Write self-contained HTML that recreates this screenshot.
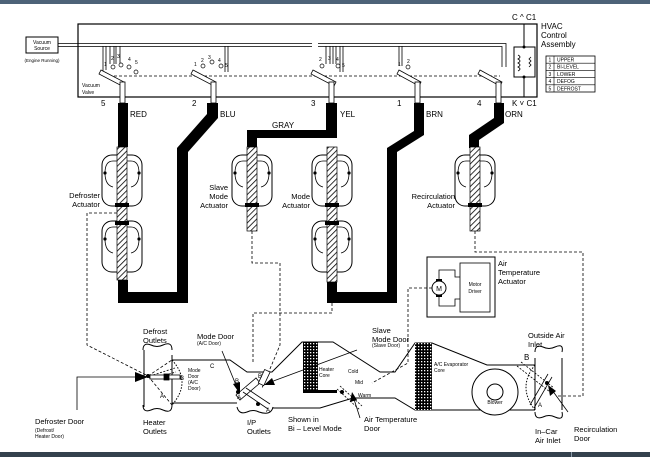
<!DOCTYPE html>
<html><head><style>
body{margin:0;background:#fff}
svg{display:block}
text{font-family:"Liberation Sans",sans-serif;fill:#000}
</style></head><body>
<svg width="650" height="457" viewBox="0 0 650 457" xmlns="http://www.w3.org/2000/svg">
<defs>
<pattern id="h" width="4" height="4" patternUnits="userSpaceOnUse" patternTransform="rotate(45)"><rect width="4" height="4" fill="#fff"/><line x1="0" y1="0" x2="0" y2="4" stroke="#000" stroke-width="1.6"/></pattern>
<pattern id="g" width="3" height="3" patternUnits="userSpaceOnUse"><rect width="3" height="3" fill="#000"/><rect x="1" y="1" width="1.3" height="1.3" fill="#fff"/></pattern>
<g id="lobe">
<rect x="-20" y="0" width="40" height="51" rx="10" fill="#fff" stroke="#000" stroke-width="1"/>
<path d="M-17 18 q0 -12 8 -12 h4 M17 18 q0 -12 -8 -12 h-4 M-17 18 q0 12 8 14 M17 18 q0 12 -8 14" fill="none" stroke="#000" stroke-width="0.8"/>
<circle cx="-17" cy="18" r="1.6"/><circle cx="17" cy="18" r="1.6"/>
</g>
</defs>
<rect x="0" y="0" width="650" height="4" fill="#4d6378"/>
<rect x="0" y="452" width="650" height="5" fill="#34414d"/>
<rect x="571" y="452" width="1" height="5" fill="#8a99a8"/>

<rect x="78" y="24" width="459" height="73" fill="none" stroke="#000" stroke-width="1.2"/>
<rect x="26" y="37" width="32" height="16" fill="#fff" stroke="#000"/>
<text x="42" y="44" font-size="5" text-anchor="middle">Vacuum</text>
<text x="42" y="50" font-size="5" text-anchor="middle">Source</text>
<text x="42" y="62" font-size="4.5" text-anchor="middle">(Engine Running)</text>
<path d="M58 43.5 H312 M318 43.5 H506 V67 M58 46.5 H312 M318 46.5 H502 V67" fill="none" stroke="#000" stroke-width="0.8"/>
<line x1="104" y1="76" x2="500" y2="76" stroke="#000" stroke-width="0.7" stroke-dasharray="3,2"/>
<text x="82" y="87" font-size="5">Vacuum</text><text x="82" y="94" font-size="5">Valve</text>
<g fill="none" stroke="#000" stroke-width="0.8">
<path d="M103 46 V72 M106 46 V70 M110 46 V64 M114 46 V64 M116 46 V64 M120 46 V64"/>
<path d="M225 46 V72 M228 46 V72"/>
<path d="M326 46 V64 M330 46 V64 M333 46 V64 M336 46 V64 M340 46 V72 M343 46 V72"/>
<path d="M399 46 V66 M402 46 V66"/>
</g>
<g font-size="5">
<text x="104" y="66">1</text><text x="111" y="60">2</text><text x="117" y="58">3</text><text x="128" y="61">4</text><text x="135" y="64">5</text>
<text x="194" y="66">1</text><text x="201" y="62">2</text><text x="208" y="59">3</text><text x="218" y="62">4</text><text x="225" y="67">5</text>
<text x="319" y="61">2</text><text x="328" y="60">3</text><text x="336" y="61">4</text><text x="342" y="67">5</text>
<text x="398" y="66">1</text><text x="407" y="63">2</text>
</g>
<g fill="#fff" stroke="#000" stroke-width="0.7">
<circle cx="113" cy="67" r="2"/><circle cx="121" cy="65" r="2"/><circle cx="129" cy="67" r="2"/><circle cx="136" cy="72" r="2"/>
<circle cx="203" cy="66" r="2"/><circle cx="212" cy="62" r="2"/><circle cx="221" cy="66" r="2"/>
<circle cx="322" cy="66" r="2"/><circle cx="338" cy="66" r="2"/><circle cx="408" cy="67" r="2"/>
</g>
<g fill="#fff" stroke="#000" stroke-width="0.8">
<path d="M101 70 L124 82 L122 86 L99 74 Z"/><rect x="120" y="82" width="5" height="21"/>
<path d="M193 70 L216 82 L214 86 L191 74 Z"/><rect x="211" y="82" width="5" height="21"/>
<path d="M313 70 L336 82 L334 86 L311 74 Z"/><rect x="329" y="82" width="5" height="21"/>
<path d="M399 70 L421 82 L419 86 L397 74 Z"/><rect x="415" y="82" width="5" height="21"/>
<path d="M480 70 L502 82 L500 86 L478 74 Z"/><rect x="496" y="82" width="5" height="21"/>
</g>
<line x1="524" y1="24" x2="524" y2="97" stroke="#000"/>
<rect x="514" y="47" width="21" height="30" fill="#fff" stroke="#000"/>
<path d="M518 55 q4 2 0 4 q4 2 0 4 q4 2 0 4 q4 2 0 4 M531 57 l-2 2 l2 2 l-2 2 l2 2 l-2 2" fill="none" stroke="#000" stroke-width="0.8"/>
<circle cx="524" cy="47" r="1.5"/><circle cx="524" cy="77" r="1.5"/>
<text x="512" y="20" font-size="8">C ^ C1</text>
<text x="512" y="106" font-size="8">K ˅ C1</text>
<text x="541" y="29" font-size="8">HVAC</text><text x="541" y="38" font-size="8">Control</text><text x="541" y="47" font-size="8">Assembly</text>
<g font-size="5" stroke="none">
<rect x="546" y="56" width="49" height="36" fill="#fff" stroke="#000" stroke-width="0.8"/>
<path d="M546 63.2H595M546 70.4H595M546 77.6H595M546 84.8H595M554 56V92" stroke="#000" stroke-width="0.6"/>
<text x="548.5" y="61.5">1</text><text x="557" y="61.5">UPPER</text>
<text x="548.5" y="68.7">2</text><text x="557" y="68.7">BI-LEVEL</text>
<text x="548.5" y="75.9">3</text><text x="557" y="75.9">LOWER</text>
<text x="548.5" y="83.1">4</text><text x="557" y="83.1">DEFOG</text>
<text x="548.5" y="90.3">5</text><text x="557" y="90.3">DEFROST</text>
</g>
<g font-size="8">
<text x="101" y="106">5</text><text x="192" y="106">2</text><text x="311" y="106">3</text><text x="397" y="106">1</text><text x="477" y="106">4</text>
<text x="130" y="117">RED</text><text x="220" y="117">BLU</text><text x="340" y="117">YEL</text><text x="426" y="117">BRN</text><text x="505" y="117">ORN</text>
<text x="272" y="128">GRAY</text>
</g>
<g fill="#000">
<rect x="118" y="103" width="10" height="44"/>
<path d="M207 103 H218 V118 L188 152 V303 H118 V280 H128 V292 H177 V148 L207 114 Z"/>
<path d="M326 103 H337 V138 H257 V147 H247 V130 H326 Z"/>
<path d="M414 103 H424 V135 L397 152 V303 H327 V282 H337 V292 H387 V148 L414 131 Z"/>
<path d="M494 103 H504 V123 L479 140 V148 H469 V135 L494 118 Z"/>
</g>
<g>
<use href="#lobe" x="122" y="155"/><use href="#lobe" x="122" y="221"/>
<rect x="117" y="147" width="10" height="133" fill="url(#h)" stroke="#000" stroke-width="0.7"/>
<rect x="115" y="203" width="14" height="4"/><rect x="115" y="221" width="14" height="4"/>
<use href="#lobe" x="252" y="155"/>
<rect x="247" y="147" width="10" height="84" fill="url(#h)" stroke="#000" stroke-width="0.7"/>
<rect x="245" y="203" width="14" height="4"/>
<use href="#lobe" x="332" y="155"/><use href="#lobe" x="332" y="221"/>
<rect x="327" y="147" width="10" height="135" fill="url(#h)" stroke="#000" stroke-width="0.7"/>
<rect x="325" y="203" width="14" height="4"/><rect x="325" y="221" width="14" height="4"/>
<use href="#lobe" x="475" y="155"/>
<rect x="470" y="147" width="10" height="84" fill="url(#h)" stroke="#000" stroke-width="0.7"/>
<rect x="468" y="203" width="14" height="4"/>
</g>
<g font-size="7.5" text-anchor="end">
<text x="100" y="198">Defroster</text><text x="100" y="207">Actuator</text>
<text x="228" y="190">Slave</text><text x="228" y="199">Mode</text><text x="228" y="208">Actuator</text>
<text x="310" y="199">Mode</text><text x="310" y="208">Actuator</text>
<text x="455" y="199">Recirculation</text><text x="455" y="208">Actuator</text>
</g>
<rect x="427" y="257" width="68" height="60" fill="#fff" stroke="#000"/>
<rect x="460" y="263" width="30" height="49" fill="#fff" stroke="#000" stroke-width="0.8"/>
<path d="M439 280 V270 H455 V277 H460 M439 296 V306 H455 V299 H460" fill="none" stroke="#000" stroke-width="0.8"/>
<rect x="436" y="279" width="6" height="18"/>
<circle cx="439" cy="288" r="7" fill="#fff" stroke="#000"/>
<text x="439" y="291" font-size="7" text-anchor="middle">M</text>
<text x="475" y="286" font-size="5" text-anchor="middle">Motor</text><text x="475" y="293" font-size="5" text-anchor="middle">Driver</text>
<text x="498" y="266" font-size="7.5">Air</text><text x="498" y="275" font-size="7.5">Temperature</text><text x="498" y="284" font-size="7.5">Actuator</text>
<g fill="none" stroke="#000" stroke-width="0.8" stroke-dasharray="3,2">
<path d="M117 213 H87 V345 L148 376"/>
<path d="M252 231 V263 H280 V345 L262 388"/>
<path d="M332 303 V313 H253 V364"/>
<path d="M475 231 V252 H583 V396 H556"/>
<path d="M432 288 H408 V363 L372 383"/>
<path d="M148 376 L172 360 M148 376 L172 405"/>
</g>
<g fill="none" stroke="#000" stroke-width="1">
<path d="M172 360 H230 L247 372 H272 L302 342 H333 L380 372 H395 L415 343 H432 L487 365 H535"/>
<path d="M172 403 H237 M273 408 H320 L353 398 H395 L415 410 H535"/>
<path d="M144 350 V407 M172 355 V405 M535 358 V410 M562 358 V410"/>
<path d="M143 350 q0 -8 8 -5 q6 3 12 0 q9 -4 9 5 M143 405 q0 8 8 5 q6 -3 12 0 q9 4 9 -5"/>
<path d="M237 407 q2 8 10 5 q6 -3 12 0 q12 4 14 -5"/>
<path d="M535 352 q0 -8 8 -5 q6 3 12 0 q9 -4 7 5 M535 412 q0 8 8 5 q6 -3 12 0 q9 4 7 -5"/>
<path d="M172 360 q20 22 0 45 M535 365 q-18 22 0 45" stroke-dasharray="1.5,1.5"/>
</g>
<rect x="303" y="342" width="15" height="50" fill="url(#g)"/>
<rect x="303" y="390" width="34" height="3"/>
<rect x="415" y="343" width="17" height="67" fill="url(#g)"/>
<circle cx="495" cy="392" r="23" fill="#fff" stroke="#000"/>
<circle cx="495" cy="392" r="8" fill="#fff" stroke="#000"/>
<text x="495" y="404" font-size="5" text-anchor="middle">Blower</text>
<g stroke="#000" stroke-width="0.8" fill="#fff">
<path d="M150 376 L175 368 M152 379 L176 372" stroke-dasharray="2,1.5" fill="none"/>
<rect x="150" y="375" width="30" height="4"/><rect x="164" y="374" width="5" height="6" fill="#000"/>
<path d="M236 395 L256 378 L260 383 L240 400 Z"/>
<path d="M243 392 L268 409 M246 388 L270 404" fill="none"/>
<rect x="261" y="370" width="6" height="15" transform="rotate(25 264 378)"/>
<path d="M337 389 L360 410 M340 386 L362 406" stroke-dasharray="2,1.5" fill="none"/>
<path d="M548 374 L530 405 M552 377 L534 408" fill="none"/>
<path d="M517 366 L550 392 M521 362 L554 388" stroke-dasharray="2,1.5" fill="none"/>
</g>
<circle cx="148" cy="376" r="2"/><circle cx="238" cy="392" r="2"/><circle cx="258" cy="404" r="2"/><circle cx="342" cy="392" r="2"/><circle cx="547" cy="383" r="2"/>
<g stroke="#000" stroke-width="0.8" fill="none">
<path d="M77 410 V377 H136"/>
<path d="M222 351 L238 390"/>
<path d="M357 350 L268 383"/>
<path d="M360 418 L353 396"/>
<path d="M568 412 L552 390"/>
</g>
<g fill="#000">
<path d="M148 377 L135 372 L135 382 Z"/>
<path d="M240 394 L233 384 L240 382 Z"/>
<path d="M264 385 L272 378 L275 385 Z"/>
<path d="M352 392 L350 402 L357 400 Z"/>
<path d="M548 385 L550 396 L556 391 Z"/>
</g>
<g font-size="6">
<text x="210" y="368">C</text><text x="180" y="380">B</text><text x="160" y="398">A</text>
<text x="235" y="383">B</text><text x="258" y="378">B</text><text x="237" y="399">A</text><text x="266" y="412">A</text>
<text x="524" y="360" font-size="8">B</text><text x="538" y="407">A</text>
</g>
<g font-size="5">
<text x="188" y="372">Mode</text><text x="188" y="378">Door</text><text x="188" y="384">(A/C</text><text x="188" y="390">Door)</text>
<text x="319" y="371">Heater</text><text x="319" y="377">Core</text>
<text x="348" y="373">Cold</text><text x="355" y="384">Mid</text><text x="358" y="397">Warm</text>
<text x="434" y="366">A/C Evaporator</text><text x="434" y="372">Core</text>
<text x="197" y="345">(A/C Door)</text><text x="372" y="347">(Slave Door)</text>
<text x="35" y="432">(Defrost/</text><text x="35" y="438">Heater Door)</text>
</g>
<g font-size="7.5">
<text x="143" y="334">Defrost</text><text x="143" y="343">Outlets</text>
<text x="197" y="339">Mode Door</text>
<text x="372" y="333">Slave</text><text x="372" y="342">Mode Door</text>
<text x="528" y="338">Outside Air</text><text x="528" y="347">Inlet</text>
<text x="35" y="424">Defroster Door</text>
<text x="143" y="425">Heater</text><text x="143" y="434">Outlets</text>
<text x="247" y="425">I/P</text><text x="247" y="434">Outlets</text>
<text x="288" y="422">Shown in</text><text x="288" y="431">Bi – Level Mode</text>
<text x="364" y="422">Air Temperature</text><text x="364" y="431">Door</text>
<text x="535" y="434">In–Car</text><text x="535" y="443">Air Inlet</text>
<text x="574" y="432">Recirculation</text><text x="574" y="441">Door</text>
</g>
</svg>
</body></html>
